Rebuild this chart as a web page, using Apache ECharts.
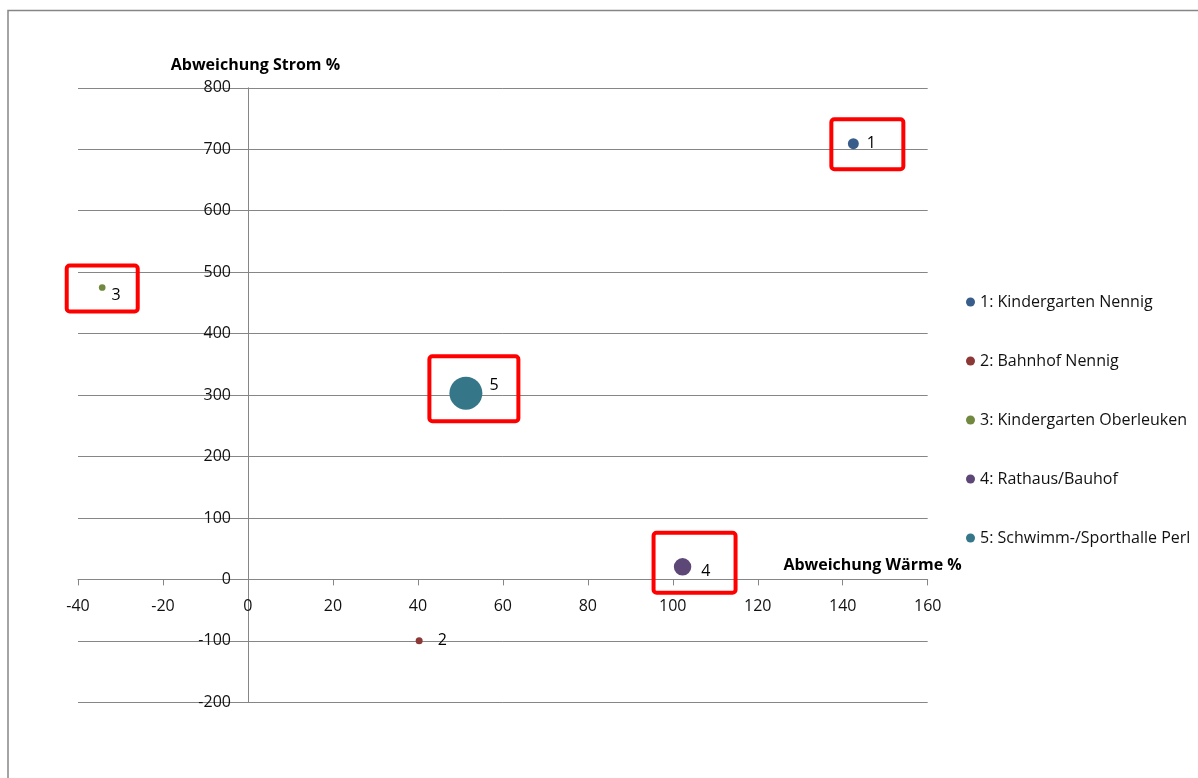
<!DOCTYPE html>
<html><head><meta charset="utf-8">
<script src="https://cdn.jsdelivr.net/npm/echarts@6/dist/echarts.min.js"></script>
<style>html,body{margin:0;padding:0;background:#fff;}#chart{width:1198px;height:778px;}</style>
</head><body><div id="chart"></div>
<script>
// ---- data ----
const seriesNames = ['1: Kindergarten Nennig', '2: Bahnhof Nennig', '3: Kindergarten Oberleuken', '4: Rathaus/Bauhof', '5: Schwimm-/Sporthalle Perl'];
const pointLabels = ['1', '2', '3', '4', '5'];
const waermeValues = [142.5, 40.3, -34.3, 102.3, 51.3];   // Abweichung Wärme %
const stromValues = [709, -100, 475, 20.5, 303];           // Abweichung Strom %
const bubbleSizes = [11, 4.5, 4.1, 28, 100];               // bubble size value
const highlighted = [0, 2, 3, 4];                          // points marked with red boxes
const xAxisRange = { min: -40, max: 160, interval: 20 };
const yAxisRange = { min: -200, max: 800, interval: 100 };
const xAxisTitle = 'Abweichung Wärme %';
const yAxisTitle = 'Abweichung Strom %';

// ---- style ----
const colors = ['#385D8A', '#8C3836', '#71893F', '#5C4776', '#357689'];
const labelOffsets = [[3, 0], [10, 0], [1, 8], [5, 5], [2, -8]];
const boxStyle = { // [dx, dy, w, h] in px relative to the point
  0: [14, 0.5, 72, 50],
  2: [0, 1, 71, 46],
  3: [12, -4, 82, 60],
  4: [8, -4.5, 89, 65]
};
const FONT = '"Open Sans", sans-serif';
const GREY = '#868686';
const W = 1198, H = 778;
const gridBox = { left: 78, right: 270.3, top: 87.8, bottom: 75.7 };
const gridW = W - gridBox.left - gridBox.right;
const gridH = H - gridBox.top - gridBox.bottom;
// axes cross at zero: shift each axis inward to the other axis' zero
const xAxisOffset = -((0 - yAxisRange.min) / (yAxisRange.max - yAxisRange.min)) * gridH;
const yAxisOffset = -((0 - xAxisRange.min) / (xAxisRange.max - xAxisRange.min)) * gridW;

const chart = echarts.init(document.getElementById('chart'), null, { renderer: 'canvas' });

const scatterSeries = seriesNames.map((name, i) => ({
  name: name,
  type: 'scatter',
  data: [[waermeValues[i], stromValues[i], bubbleSizes[i]]],
  symbolSize: v => 3.3 * Math.sqrt(v[2]),
  itemStyle: { color: colors[i], opacity: 1 },
  label: {
    show: true, position: 'right', distance: 5, offset: labelOffsets[i],
    formatter: () => pointLabels[i],
    fontFamily: FONT, fontSize: 16, color: '#000'
  },
  emphasis: { disabled: true },
  z: 3
}));

const boxSeries = {
  type: 'custom',
  name: 'boxes',
  silent: true,
  clip: false,
  z: 5,
  data: highlighted.map(i => [waermeValues[i], stromValues[i], i]),
  renderItem: (params, api) => {
    const p = api.coord([api.value(0), api.value(1)]);
    const b = boxStyle[api.value(2)];
    return {
      type: 'rect',
      shape: { x: p[0] + b[0] - b[2] / 2, y: p[1] + b[1] - b[3] / 2, width: b[2], height: b[3], r: 3 },
      style: { fill: 'none', stroke: '#FF0000', lineWidth: 4 }
    };
  }
};

chart.setOption({
  animation: false,
  backgroundColor: '#fff',
  textStyle: { fontFamily: FONT },
  graphic: [{
    type: 'rect', silent: true, z: 0,
    shape: { x: 8, y: 10.5, width: 1400, height: 1000 },
    style: { fill: 'none', stroke: GREY, lineWidth: 1.5 }
  }],
  grid: { left: gridBox.left, right: gridBox.right, top: gridBox.top, bottom: gridBox.bottom, containLabel: false },
  legend: {
    data: seriesNames,
    orient: 'vertical', left: 961, top: 287,
    icon: 'circle', itemWidth: 9, itemHeight: 9, itemGap: 39,
    textStyle: { fontFamily: FONT, fontSize: 16, color: '#111', lineHeight: 20 },
    selectedMode: false
  },
  xAxis: {
    type: 'value', position: 'bottom', offset: xAxisOffset,
    min: xAxisRange.min, max: xAxisRange.max, interval: xAxisRange.interval,
    name: xAxisTitle, nameLocation: 'end', nameGap: 34,
    nameTextStyle: { fontFamily: FONT, fontSize: 16, fontWeight: 'bold', color: '#000', align: 'right', verticalAlign: 'bottom', padding: [0, 0, 6, 0] },
    axisLine: { show: true, onZero: false, lineStyle: { color: GREY, width: 1 } },
    axisTick: { show: true, length: 6, lineStyle: { color: GREY } },
    axisLabel: { margin: 19, fontFamily: FONT, fontSize: 16, color: '#111' },
    splitLine: { show: false }
  },
  yAxis: {
    type: 'value', position: 'left', offset: yAxisOffset,
    min: yAxisRange.min, max: yAxisRange.max, interval: yAxisRange.interval,
    name: yAxisTitle, nameLocation: 'end', nameGap: 14,
    nameTextStyle: { fontFamily: FONT, fontSize: 16, fontWeight: 'bold', color: '#000', padding: [0, 0, 0, 15] },
    axisLine: { show: true, onZero: false, lineStyle: { color: GREY, width: 1 } },
    axisTick: { show: false },
    axisLabel: { margin: 17, fontFamily: FONT, fontSize: 16, color: '#111' },
    splitLine: { show: true, lineStyle: { color: GREY, width: 1 } }
  },
  series: scatterSeries.concat([boxSeries])
});
</script></body></html>
